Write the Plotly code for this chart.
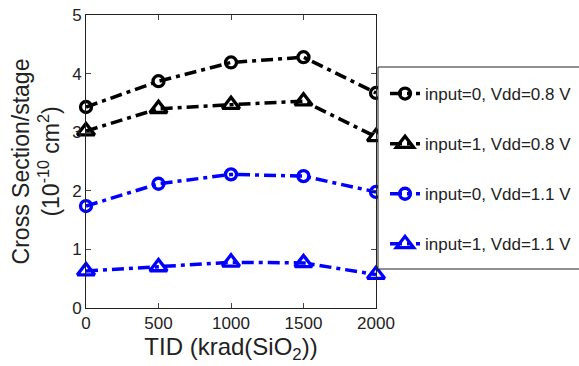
import plotly.graph_objects as go

tid = [0, 500, 1000, 1500, 2000]
names = ["input=0, Vdd=0.8 V", "input=1, Vdd=0.8 V", "input=0, Vdd=1.1 V", "input=1, Vdd=1.1 V"]
in0_08 = [3.43, 3.87, 4.19, 4.28, 3.67]
in1_08 = [3.02, 3.40, 3.47, 3.53, 2.92]
in0_11 = [1.74, 2.12, 2.28, 2.25, 1.98]
in1_11 = [0.63, 0.70, 0.78, 0.77, 0.57]
series = [in0_08, in1_08, in0_11, in1_11]
colors = ["#000000", "#000000", "#0000FF", "#0000FF"]
symbols = ["circle-open", "triangle-up-open", "circle-open", "triangle-up-open"]
sizes = [11, 15, 11, 15]

L, T, W, H = 86, 15, 290, 293
FW, FH = 579, 366

def px(xp):
    return (xp - L) / W

def py(yp):
    return (T + H - yp) / H

fig = go.Figure()
for i, ys in enumerate(series):
    fig.add_trace(go.Scatter(
        x=tid, y=ys, name=names[i], mode="lines+markers",
        legendgroup=f"g{i}",
        line=dict(color=colors[i], width=3.5, dash="12px,5px,4px,5px"),
        marker=dict(symbol=symbols[i], size=sizes[i], color=colors[i],
                    line=dict(color=colors[i], width=3.3)),
        cliponaxis=False,
    ))

font = "Liberation Sans, Arial, sans-serif"
ink = "#222222"
fig.update_layout(
    width=FW, height=FH,
    margin=dict(l=L, r=FW - L - W, t=T, b=FH - T - H, autoexpand=False),
    paper_bgcolor="white", plot_bgcolor="white",
    font=dict(family=font, color=ink),
    showlegend=True,
    legend=dict(x=px(385), y=py(76), xanchor="left", yanchor="top",
                borderwidth=0, bgcolor="rgba(0,0,0,0)",
                font=dict(size=17, family=font, color=ink),
                tracegroupgap=25),
    shapes=[dict(type="rect", xref="paper", yref="paper",
                 x0=px(378), x1=1.9, y0=py(269), y1=py(67),
                 line=dict(color=ink, width=1), fillcolor="white", layer="above")],
    xaxis=dict(range=[0, 2000], tickvals=tid, ticks="inside", ticklen=5,
               showline=True, linecolor=ink, linewidth=1, mirror="ticks",
               showgrid=False, zeroline=False,
               tickfont=dict(size=17, family=font, color=ink),
               title=dict(text="TID (krad(SiO<sub>2</sub>))", font=dict(size=24, family=font, color=ink),
                          standoff=4)),
    yaxis=dict(range=[0, 5], tickvals=[0, 1, 2, 3, 4, 5], ticks="inside", ticklen=5,
               showline=True, linecolor=ink, linewidth=1, mirror="ticks",
               showgrid=False, zeroline=False,
               tickfont=dict(size=17, family=font, color=ink),
               title=dict(text="Cross Section/stage<br>(10<sup>-10</sup> cm<sup>2</sup>)",
                          font=dict(size=23, family=font, color=ink), standoff=6)),
)

fig.write_html("out.html", config={"displayModeBar": False},
               post_script="document.body.style.margin='0px';")
